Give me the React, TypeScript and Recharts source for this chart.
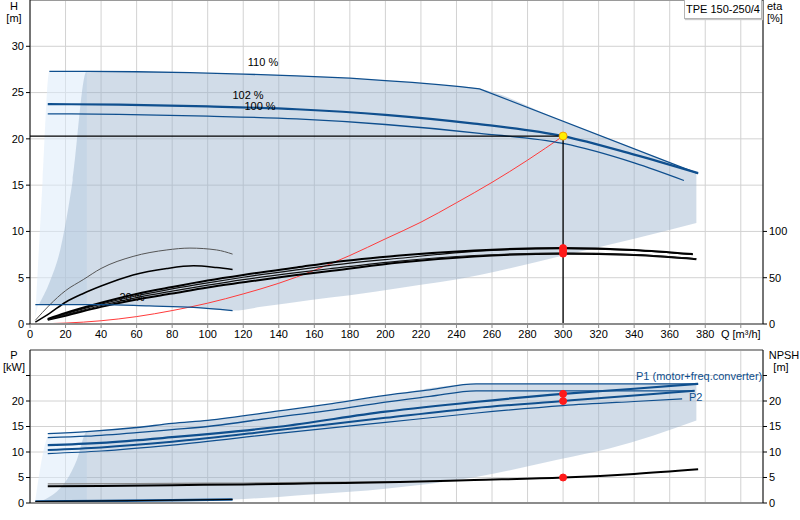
import { ComposedChart, Line, Area, XAxis, YAxis, CartesianGrid, ReferenceLine } from 'recharts';

const FONT = '"Liberation Sans", Arial, sans-serif';
const BLUE = '#0f4f8e';

const qTicks = [0, 20, 40, 60, 80, 100, 120, 140, 160, 180, 200, 220, 240, 260, 280, 300, 320, 340, 360, 380, 400];
const hTicks = [0, 5, 10, 15, 20, 25, 30];
const etaTicks = [0, 50, 100];
const pTicks = [0, 5, 10, 15, 20, 25];

// head curves [Q, H]
const head110 = [[10.9, 27.3], [33, 27.3], [60, 27.25], [90, 27.15], [120, 27.0], [150, 26.8], [180, 26.55], [200, 26.3], [215, 26.1], [230, 25.85], [242, 25.65], [253, 25.4], [376, 16.25]];
const head102 = [[10, 23.75], [50, 23.7], [100, 23.5], [150, 23.2], [200, 22.6], [250, 21.65], [300, 20.3], [340, 18.3], [376, 16.3]];
const head100 = [[10, 22.7], [50, 22.65], [100, 22.45], [150, 22.15], [200, 21.55], [253, 20.6], [300, 19.5], [340, 17.4], [368, 15.5]];
const head20 = [[3, 2.1], [40, 2.1], [67, 1.95], [92, 1.8], [114, 1.45]];
const systemCurve = [[0, 0], [20, 0.1], [40, 0.35], [60, 0.8], [80, 1.45], [100, 2.25], [120, 3.25], [140, 4.4], [160, 5.8], [180, 7.4], [200, 9.2], [220, 11.0], [240, 13.1], [260, 15.3], [280, 17.7], [300, 20.3]];
const dutyH = [[0, 20.3], [300, 20.3]];
const dutyV = [[300, 20.3], [300, 0]];
const dutyPoint = [[300, 20.3]];

// shaded operating field [Q, low, high]
const lightTop = [[2.8, 0.4, 0.4], [5, 2.1, 8.1], [7.1, 2.1, 15.5], [10.9, 2.1, 27.3], [32, 2.1, 27.3]];
const fieldTop = [[5, 2.1, 2.1], [11, 2.1, 4.5], [17, 2.1, 8], [24, 2.1, 15.5], [31.9, 2.1, 27.3], [60, 2.0, 27.25], [90, 1.82, 27.15], [114, 1.45, 27.05], [130, 1.85, 26.95], [158, 2.6, 26.75], [180, 3.1, 26.55], [208, 3.9, 26.2], [230, 4.5, 25.85], [253, 5.3, 25.4], [300, 7.4, 21.9], [340, 9.2, 18.95], [375, 10.9, 16.3]];

// efficiency curves [Q, eta]
const eta1 = [[10, 5.5], [20, 12], [40, 23], [60, 32.5], [80, 40], [100, 47], [120, 53], [150, 61], [170, 66.5], [208, 74], [250, 79.5], [300, 82], [340, 80], [373, 75.5]];
const eta2 = [[10, 5], [20, 11], [40, 21.5], [60, 30.5], [80, 38], [100, 44.5], [120, 50.5], [150, 58.5], [170, 63.5], [208, 71], [250, 78.5], [300, 81.5], [340, 79.5], [373, 75]];
const eta3 = [[10, 4.8], [20, 10], [40, 20], [60, 28.5], [80, 35.5], [100, 42], [120, 48], [150, 55.5], [170, 60], [208, 68], [250, 74], [300, 76.5], [340, 75], [375, 70.5]];
const eta4 = [[10, 4.5], [20, 9], [40, 18.5], [60, 26.5], [80, 33], [100, 39.5], [120, 45], [150, 53], [170, 57.5], [208, 66.5], [250, 73], [300, 76], [340, 74.5], [375, 70]];
const etaLowA = [[3, 4], [11, 20.5], [20, 36], [30, 48], [40, 60], [58, 73], [77, 80], [90, 82], [105, 80], [114, 75.5]];
const etaLowB = [[3, 2], [11, 11.5], [20, 23.5], [30, 33], [40, 41], [58, 53], [77, 60], [92, 62.8], [105, 61], [114, 59]];
const etaMarks = [[300, 82], [300, 79], [300, 76]];

// power / NPSH [Q, value]
const lightBottom = [[2.8, 0, 0], [11.3, 0.3, 13.6], [32, 0.35, 14.0]];
const fieldBottom = [[3.8, 0.2, 0.2], [9.4, 0.3, 0.9], [15, 0.32, 2.2], [20.6, 0.33, 4.5], [26.3, 0.35, 8.4], [31.9, 0.36, 13.9], [60, 0.45, 14.8], [80, 0.55, 15.6], [114, 0.7, 16.8], [140, 1.2, 18.05], [160, 1.7, 18.9], [200, 2.8, 21.1], [251, 5.1, 23.35], [298, 8.6, 23.35], [326, 10.7, 23.35], [375, 16.2, 23.35]];
const p1Max = [[10, 13.6], [32, 14.0], [60, 14.8], [80, 15.6], [100, 16.2], [140, 18.05], [170, 19.5], [200, 21.1], [225, 22.2], [251, 23.35], [376, 23.35]];
const p2Max = [[10, 12.8], [32, 13.1], [60, 13.8], [80, 14.4], [100, 15.0], [140, 16.9], [170, 18.2], [200, 19.8], [225, 20.9], [251, 22.0], [374, 22.0]];
const p1 = [[10, 11.35], [40, 11.8], [80, 12.9], [140, 14.95], [200, 17.9], [250, 19.8], [300, 21.4], [340, 22.4], [376, 23.35]];
const p2 = [[10, 10.4], [40, 10.9], [80, 12.0], [140, 14.3], [200, 16.7], [250, 18.6], [300, 20.0], [340, 21.1], [374, 22.0]];
const p2Rated = [[10, 9.7], [40, 10.2], [80, 11.35], [140, 13.65], [200, 15.8], [250, 17.6], [300, 19.1], [340, 19.9], [367, 20.4]];
const p20 = [[3, 0.3], [40, 0.4], [80, 0.55], [114, 0.7]];
const npsh = [[10, 3.3], [40, 3.35], [80, 3.5], [120, 3.65], [160, 3.85], [208, 4.1], [250, 4.5], [300, 5.0], [340, 5.7], [376, 6.6]];
const npshFaint = [[10, 3.75], [60, 3.8], [120, 3.92], [208, 4.2]];
const pMarks = [[300, 21.4], [300, 20.0]];
const npshMark = [[300, 5.0]];

const pts = (a: number[][]) => a.map(([q, v]) => ({ q, v }));
const rng = (a: number[][]) => a.map(([q, lo, hi]) => ({ q, r: [lo, hi] }));

const curve = (id: string, data: number[][], axis: string, color: string, width: number, type: any = 'monotone') => (
  <Line key={id} data={pts(data)} dataKey="v" yAxisId={axis} type={type} stroke={color} strokeWidth={width}
    dot={false} activeDot={false} isAnimationActive={false} />
);

const marks = (id: string, data: number[][], axis: string, fill: string, stroke: string, r: number) => (
  <Line key={id} data={pts(data)} dataKey="v" yAxisId={axis} stroke="none" strokeWidth={0}
    dot={{ r, fill, stroke, strokeWidth: 1 }} activeDot={false} isAnimationActive={false} />
);

const field = (id: string, data: number[][], axis: string, fill: string, opacity: number) => (
  <Area key={id} data={rng(data)} dataKey="r" yAxisId={axis} type="monotone" stroke="none" fill={fill}
    fillOpacity={opacity} activeDot={false} isAnimationActive={false} />
);

const tickStyle = { fill: '#000', fontSize: 11, fontFamily: FONT };

const Txt = ({ x, y, children, color = '#000', align = 'center' }: any) => (
  <div style={{
    position: 'absolute', left: x, top: y, fontFamily: FONT, fontSize: 11, color, whiteSpace: 'nowrap',
    transform: align === 'center' ? 'translate(-50%, -50%)' : 'translate(0, -50%)', lineHeight: '12px',
  }}>{children}</div>
);

export default function App() {
  return (
    <div style={{ position: 'absolute', left: 0, top: 0, width: 800, height: 520, background: '#fff', overflow: 'hidden' }}>
      <div style={{ position: 'absolute', left: 0, top: 0 }}>
        <ComposedChart width={800} height={345} margin={{ top: 0, right: 0, bottom: 0, left: 0 }}>
          <CartesianGrid stroke="#d2d2d2" yAxisId="h" />
          <XAxis type="number" dataKey="q" domain={[0, 412.5]} ticks={qTicks} interval={0} height={21}
            tickFormatter={(v: number) => (v === 400 ? 'Q [m³/h]' : String(v))}
            axisLine={{ stroke: '#8c8c8c', strokeWidth: 2 }} tickLine={{ stroke: '#8c8c8c' }} tickSize={4} tick={tickStyle} />
          <YAxis yAxisId="h" domain={[0, 35]} ticks={hTicks} interval={0} width={30}
            axisLine={{ stroke: '#000' }} tickLine={{ stroke: '#000' }} tickSize={4} tick={tickStyle} />
          <YAxis yAxisId="eta" orientation="right" domain={[0, 350]} ticks={etaTicks} interval={0} width={37}
            axisLine={{ stroke: '#000' }} tickLine={{ stroke: '#000' }} tickSize={4} tick={tickStyle} />
          <ReferenceLine y={35} yAxisId="h" stroke="#9a9a9a" strokeWidth={2} />
          {field('lightTop', lightTop, 'h', '#dcebfa', 0.55)}
          {field('fieldTop', fieldTop, 'h', '#98b1cb', 0.45)}
          {curve('sys', systemCurve, 'h', '#ff3b3b', 1)}
          {curve('eta4', eta4, 'eta', '#000', 2)}
          {curve('eta3', eta3, 'eta', '#111', 1.2)}
          {curve('eta2', eta2, 'eta', '#111', 1.2)}
          {curve('eta1', eta1, 'eta', '#000', 2)}
          {curve('etaLowA', etaLowA, 'eta', '#555', 1)}
          {curve('etaLowB', etaLowB, 'eta', '#000', 1.5)}
          {curve('h110', head110, 'h', BLUE, 1.3, 'linear')}
          {curve('h102', head102, 'h', BLUE, 2.2)}
          {curve('h100', head100, 'h', BLUE, 1.3)}
          {curve('h20', head20, 'h', BLUE, 1.3)}
          {curve('dutyH', dutyH, 'h', '#000', 1.3, 'linear')}
          {curve('dutyV', dutyV, 'h', '#000', 1.3, 'linear')}
          {marks('etaMarks', etaMarks, 'eta', '#ff1a1a', '#ff1a1a', 3.5)}
          {marks('duty', dutyPoint, 'h', '#ffee00', '#f5a000', 4)}
        </ComposedChart>
      </div>
      <div style={{ position: 'absolute', left: 0, top: 345 }}>
        <ComposedChart width={800} height={175} margin={{ top: 5, right: 0, bottom: 0, left: 0 }}>
          <CartesianGrid stroke="#d2d2d2" yAxisId="p" />
          <XAxis type="number" dataKey="q" domain={[0, 412.5]} ticks={qTicks} interval={0} height={17}
            tickFormatter={() => ''} axisLine={{ stroke: '#8c8c8c', strokeWidth: 2 }} tickLine={false} />
          <YAxis yAxisId="p" domain={[0, 30]} ticks={pTicks} interval={0} width={30}
            tickFormatter={(v: number) => (v === 25 ? '' : String(v))}
            axisLine={{ stroke: '#000' }} tickLine={{ stroke: '#000' }} tickSize={4} tick={tickStyle} />
          <YAxis yAxisId="npsh" orientation="right" domain={[0, 30]} ticks={pTicks} interval={0} width={37}
            tickFormatter={(v: number) => (v === 25 ? '' : String(v))}
            axisLine={{ stroke: '#000' }} tickLine={{ stroke: '#000' }} tickSize={4} tick={tickStyle} />
          <ReferenceLine y={30} yAxisId="p" stroke="#9a9a9a" strokeWidth={2} />
          {field('lightBottom', lightBottom, 'p', '#dcebfa', 0.55)}
          {field('fieldBottom', fieldBottom, 'p', '#98b1cb', 0.45)}
          {curve('p1Max', p1Max, 'p', BLUE, 1.3)}
          {curve('p2Max', p2Max, 'p', BLUE, 1.3)}
          {curve('p1', p1, 'p', BLUE, 2.2)}
          {curve('p2', p2, 'p', BLUE, 2)}
          {curve('p2Rated', p2Rated, 'p', BLUE, 1.2)}
          {curve('p20blue', p20, 'p', BLUE, 2.5)}
          {curve('p20', p20, 'p', '#000', 1)}
          {curve('npshFaint', npshFaint, 'npsh', '#8a8a8a', 1.2)}
          {curve('npsh', npsh, 'npsh', '#000', 2)}
          {marks('pMarks', pMarks, 'p', '#ff1a1a', '#ff1a1a', 3.5)}
          {marks('npshMark', npshMark, 'npsh', '#ff1a1a', '#ff1a1a', 3.5)}
        </ComposedChart>
      </div>

      <Txt x={14} y={6}>H</Txt>
      <Txt x={14} y={18}>[m]</Txt>
      <Txt x={767} y={6} align="left">eta</Txt>
      <Txt x={767} y={18} align="left">[%]</Txt>
      <div style={{
        position: 'absolute', left: 684, top: 0, width: 76, height: 18, background: '#fff',
        border: '1px solid #b5b5b5', borderTop: 'none', boxShadow: '1px 1px 1px #c8c8c8',
        fontFamily: FONT, fontSize: 11, lineHeight: '18px', textAlign: 'center', color: '#000',
      }}>TPE 150-250/4</div>
      <Txt x={263} y={62}>110 %</Txt>
      <Txt x={248} y={95}>102 %</Txt>
      <Txt x={260} y={106}>100 %</Txt>
      <Txt x={132} y={297}>20 %</Txt>

      <Txt x={14} y={355}>P</Txt>
      <Txt x={14} y={367}>[kW]</Txt>
      <Txt x={784} y={355}>NPSH</Txt>
      <Txt x={781} y={367}>[m]</Txt>
      <Txt x={636} y={376} align="left" color={BLUE}>P1 (motor+freq.converter)</Txt>
      <Txt x={689} y={397} align="left" color={BLUE}>P2</Txt>
    </div>
  );
}
